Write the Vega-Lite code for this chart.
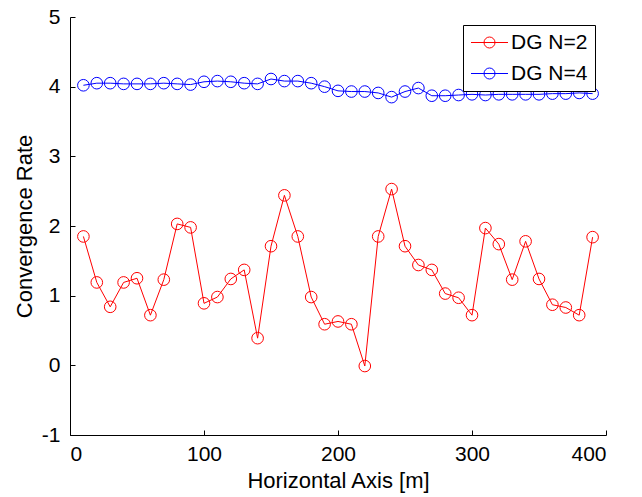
{
  "$schema": "https://vega.github.io/schema/vega-lite/v6.json",
  "width": 536,
  "height": 418,
  "autosize": {"type": "none"},
  "padding": {"left": 70, "top": 17, "right": 36, "bottom": 62},
  "background": "white",
  "config": {
    "view": {"stroke": null},
    "font": "Liberation Sans",
    "axis": {
      "grid": false,
      "domainColor": "#000000",
      "domainWidth": 1,
      "tickColor": "#000000",
      "tickWidth": 1,
      "tickSize": -5,
      "labelColor": "#000000",
      "labelFont": "Liberation Sans",
      "labelFontSize": 21,
      "titleFont": "Liberation Sans",
      "titleFontSize": 22,
      "titleFontWeight": "normal",
      "titleColor": "#000000"
    }
  },
  "data": {
    "values": [
      {"x": 10, "y": 1.85, "series": "DG N=2"},
      {"x": 20, "y": 1.19, "series": "DG N=2"},
      {"x": 30, "y": 0.84, "series": "DG N=2"},
      {"x": 40, "y": 1.19, "series": "DG N=2"},
      {"x": 50, "y": 1.25, "series": "DG N=2"},
      {"x": 60, "y": 0.72, "series": "DG N=2"},
      {"x": 70, "y": 1.23, "series": "DG N=2"},
      {"x": 80, "y": 2.03, "series": "DG N=2"},
      {"x": 90, "y": 1.98, "series": "DG N=2"},
      {"x": 100, "y": 0.89, "series": "DG N=2"},
      {"x": 110, "y": 0.98, "series": "DG N=2"},
      {"x": 120, "y": 1.24, "series": "DG N=2"},
      {"x": 130, "y": 1.37, "series": "DG N=2"},
      {"x": 140, "y": 0.39, "series": "DG N=2"},
      {"x": 150, "y": 1.71, "series": "DG N=2"},
      {"x": 160, "y": 2.44, "series": "DG N=2"},
      {"x": 170, "y": 1.85, "series": "DG N=2"},
      {"x": 180, "y": 0.98, "series": "DG N=2"},
      {"x": 190, "y": 0.59, "series": "DG N=2"},
      {"x": 200, "y": 0.63, "series": "DG N=2"},
      {"x": 210, "y": 0.59, "series": "DG N=2"},
      {"x": 220, "y": -0.01, "series": "DG N=2"},
      {"x": 230, "y": 1.85, "series": "DG N=2"},
      {"x": 240, "y": 2.53, "series": "DG N=2"},
      {"x": 250, "y": 1.71, "series": "DG N=2"},
      {"x": 260, "y": 1.44, "series": "DG N=2"},
      {"x": 270, "y": 1.37, "series": "DG N=2"},
      {"x": 280, "y": 1.03, "series": "DG N=2"},
      {"x": 290, "y": 0.97, "series": "DG N=2"},
      {"x": 300, "y": 0.72, "series": "DG N=2"},
      {"x": 310, "y": 1.97, "series": "DG N=2"},
      {"x": 320, "y": 1.74, "series": "DG N=2"},
      {"x": 330, "y": 1.23, "series": "DG N=2"},
      {"x": 340, "y": 1.78, "series": "DG N=2"},
      {"x": 350, "y": 1.24, "series": "DG N=2"},
      {"x": 360, "y": 0.87, "series": "DG N=2"},
      {"x": 370, "y": 0.83, "series": "DG N=2"},
      {"x": 380, "y": 0.72, "series": "DG N=2"},
      {"x": 390, "y": 1.84, "series": "DG N=2"},
      {"x": 10, "y": 4.02, "series": "DG N=4"},
      {"x": 20, "y": 4.05, "series": "DG N=4"},
      {"x": 30, "y": 4.05, "series": "DG N=4"},
      {"x": 40, "y": 4.04, "series": "DG N=4"},
      {"x": 50, "y": 4.04, "series": "DG N=4"},
      {"x": 60, "y": 4.04, "series": "DG N=4"},
      {"x": 70, "y": 4.05, "series": "DG N=4"},
      {"x": 80, "y": 4.04, "series": "DG N=4"},
      {"x": 90, "y": 4.03, "series": "DG N=4"},
      {"x": 100, "y": 4.07, "series": "DG N=4"},
      {"x": 110, "y": 4.08, "series": "DG N=4"},
      {"x": 120, "y": 4.07, "series": "DG N=4"},
      {"x": 130, "y": 4.05, "series": "DG N=4"},
      {"x": 140, "y": 4.04, "series": "DG N=4"},
      {"x": 150, "y": 4.11, "series": "DG N=4"},
      {"x": 160, "y": 4.08, "series": "DG N=4"},
      {"x": 170, "y": 4.08, "series": "DG N=4"},
      {"x": 180, "y": 4.05, "series": "DG N=4"},
      {"x": 190, "y": 4.0, "series": "DG N=4"},
      {"x": 200, "y": 3.94, "series": "DG N=4"},
      {"x": 210, "y": 3.93, "series": "DG N=4"},
      {"x": 220, "y": 3.93, "series": "DG N=4"},
      {"x": 230, "y": 3.91, "series": "DG N=4"},
      {"x": 240, "y": 3.85, "series": "DG N=4"},
      {"x": 250, "y": 3.93, "series": "DG N=4"},
      {"x": 260, "y": 3.98, "series": "DG N=4"},
      {"x": 270, "y": 3.87, "series": "DG N=4"},
      {"x": 280, "y": 3.87, "series": "DG N=4"},
      {"x": 290, "y": 3.88, "series": "DG N=4"},
      {"x": 300, "y": 3.89, "series": "DG N=4"},
      {"x": 310, "y": 3.88, "series": "DG N=4"},
      {"x": 320, "y": 3.89, "series": "DG N=4"},
      {"x": 330, "y": 3.89, "series": "DG N=4"},
      {"x": 340, "y": 3.89, "series": "DG N=4"},
      {"x": 350, "y": 3.89, "series": "DG N=4"},
      {"x": 360, "y": 3.9, "series": "DG N=4"},
      {"x": 370, "y": 3.9, "series": "DG N=4"},
      {"x": 380, "y": 3.91, "series": "DG N=4"},
      {"x": 390, "y": 3.9, "series": "DG N=4"}
    ]
  },
  "encoding": {
    "x": {
      "field": "x",
      "type": "quantitative",
      "scale": {"domain": [0, 400], "nice": false, "zero": false},
      "axis": {"values": [0, 100, 200, 300, 400], "title": "Horizontal Axis [m]", "labelPadding": 13, "titlePadding": 6, "labelExpr": "'' + datum.value"}
    },
    "y": {
      "field": "y",
      "type": "quantitative",
      "scale": {"domain": [-1, 5], "nice": false, "zero": false},
      "axis": {"values": [-1, 0, 1, 2, 3, 4, 5], "title": "Convergence Rate", "labelPadding": 15, "titlePadding": 5, "labelExpr": "'' + datum.value"}
    },
    "color": {
      "field": "series",
      "type": "nominal",
      "scale": {"domain": ["DG N=2", "DG N=4"], "range": ["#ff0000", "#0000ff"]},
      "legend": {
        "title": null,
        "orient": "none",
        "legendX": 393,
        "legendY": 8,
        "strokeColor": "#000000",
        "fillColor": "#ffffff",
        "padding": 7,
        "rowPadding": 9,
        "labelFont": "Liberation Sans",
        "labelFontSize": 21,
        "labelColor": "#000000",
        "symbolType": "M-1.85,0H1.85M-0.55,0A0.55,0.55,0,1,1,0.55,0A0.55,0.55,0,1,1,-0.55,0",
        "symbolSize": 400,
        "symbolOffset": 9,
        "symbolStrokeWidth": 1,
        "symbolFillColor": "transparent",
        "labelOffset": 11
      }
    }
  },
  "layer": [
    {"mark": {"type": "line", "strokeWidth": 1}},
    {"mark": {"type": "point", "shape": "circle", "filled": false, "size": 135, "strokeWidth": 1, "opacity": 1}}
  ]
}
